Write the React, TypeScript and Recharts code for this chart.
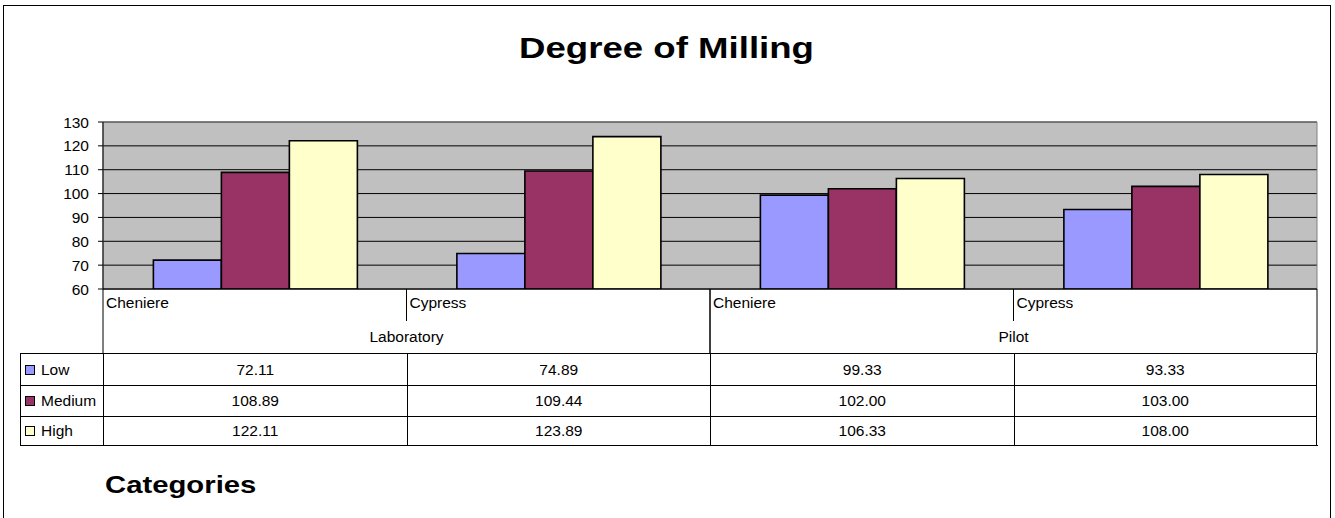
import React from 'react';
import {
  BarChart,
  Bar,
  XAxis,
  YAxis,
  CartesianGrid,
  ReferenceArea,
} from 'recharts';

// chart values
const categories = ['Cheniere', 'Cypress', 'Cheniere', 'Cypress'];
const groups = ['Laboratory', 'Laboratory', 'Pilot', 'Pilot'];
const lowValues = [72.11, 74.89, 99.33, 93.33];
const mediumValues = [108.89, 109.44, 102.0, 103.0];
const highValues = [122.11, 123.89, 106.33, 108.0];
const yTicks = [60, 70, 80, 90, 100, 110, 120, 130];
const seriesNames = ['Low', 'Medium', 'High'];
const seriesKeys = ['low', 'medium', 'high'];
const seriesColors = ['#9999FF', '#993366', '#FFFFCC'];
const seriesValues = [lowValues, mediumValues, highValues];

const data = categories.map((c, i) => ({
  idx: i,
  low: lowValues[i],
  medium: mediumValues[i],
  high: highValues[i],
}));

// layout
const W = 1335;
const H = 518;
const PLOT_LEFT = 103;
const PLOT_RIGHT = 1317;
const PLOT_TOP = 122;
const PLOT_BOTTOM = 289;
const AXIS_H = 64;
const BAND = (PLOT_RIGHT - PLOT_LEFT) / categories.length;
const TABLE_LEFT = 20;
const ROW_TOPS = [353, 385, 416];
const ROW_HEIGHTS = [32, 31, 29];
const FONT = '"Liberation Sans", Arial, sans-serif';
const FS = 15.5;

function CategoryTick(props: any) {
  const { x, index } = props;
  const i = index as number;
  const left = x - BAND / 2;
  const right = x + BAND / 2;
  const groupEnd = i === categories.length - 1 || groups[i + 1] !== groups[i];
  const groupStart = i === 0 || groups[i - 1] !== groups[i];
  let groupLabel = null;
  if (groupEnd) {
    let start = i;
    while (start > 0 && groups[start - 1] === groups[i]) start--;
    const gx = PLOT_LEFT + ((start + i + 1) / 2) * BAND;
    groupLabel = (
      <text x={gx} y={342} textAnchor="middle" fontSize={FS} fill="#000" fontFamily={FONT}>
        {groups[i]}
      </text>
    );
  }
  return (
    <g>
      {groupStart && (
        <line x1={left} x2={left} y1={PLOT_BOTTOM} y2={PLOT_BOTTOM + AXIS_H} stroke="#000" />
      )}
      <line
        x1={right}
        x2={right}
        y1={PLOT_BOTTOM}
        y2={groupEnd ? PLOT_BOTTOM + AXIS_H : PLOT_BOTTOM + 32}
        stroke="#000"
      />
      <text x={left + 3} y={308} fontSize={FS} fill="#000" fontFamily={FONT}>
        {categories[i]}
      </text>
      {groupLabel}
    </g>
  );
}

function DataTable() {
  const cells: React.ReactNode[] = [];
  seriesNames.forEach((name, r) => {
    const top = ROW_TOPS[r];
    const h = ROW_HEIGHTS[r];
    cells.push(
      <div
        key={`lg-${r}`}
        style={{
          position: 'absolute',
          left: TABLE_LEFT,
          top,
          width: PLOT_LEFT - TABLE_LEFT,
          height: h,
          boxSizing: 'border-box',
          borderLeft: '1px solid #000',
          borderTop: '1px solid #000',
          display: 'flex',
          alignItems: 'center',
        }}
      >
        <span
          style={{
            display: 'inline-block',
            width: 8,
            height: 8,
            marginLeft: 4,
            marginRight: 6,
            border: '1px solid #000',
            background: seriesColors[r],
          }}
        />
        <span>{name}</span>
      </div>
    );
    seriesValues[r].forEach((v, c) => {
      cells.push(
        <div
          key={`c-${r}-${c}`}
          style={{
            position: 'absolute',
            left: PLOT_LEFT + c * BAND,
            top,
            width: BAND,
            height: h,
            boxSizing: 'border-box',
            borderLeft: '1px solid #000',
            borderTop: '1px solid #000',
            borderRight: c === categories.length - 1 ? '1px solid #000' : undefined,
            display: 'flex',
            alignItems: 'center',
            justifyContent: 'center',
          }}
        >
          {v.toFixed(2)}
        </div>
      );
    });
  });
  const bottom = ROW_TOPS[2] + ROW_HEIGHTS[2];
  cells.push(
    <div
      key="bottom"
      style={{
        position: 'absolute',
        left: TABLE_LEFT,
        top: bottom,
        width: PLOT_RIGHT - TABLE_LEFT + 1,
        height: 0,
        borderTop: '1px solid #000',
      }}
    />
  );
  return <>{cells}</>;
}

export default function App() {
  return (
    <div
      style={{
        position: 'absolute',
        left: 0,
        top: 0,
        width: W,
        height: H,
        overflow: 'hidden',
        background: '#fff',
        fontFamily: FONT,
        fontSize: FS,
        color: '#000',
      }}
    >
      <div
        style={{
          position: 'absolute',
          left: 3,
          top: 5,
          width: 1326,
          height: 560,
          border: '1.5px solid #000',
        }}
      />
      <div
        style={{
          position: 'absolute',
          left: 0,
          width: 1333,
          top: 31,
          textAlign: 'center',
          fontSize: 30,
          fontWeight: 'bold',
          lineHeight: '34px',
          transform: 'scaleX(1.22)',
        }}
      >
        Degree of Milling
      </div>
      <div style={{ position: 'absolute', left: 0, top: 0 }}>
        <BarChart
          width={W}
          height={360}
          data={data}
          margin={{ top: PLOT_TOP, right: W - PLOT_RIGHT, left: 43, bottom: 7 }}
          barCategoryGap="16.6%"
          barGap={0}
        >
          <CartesianGrid vertical={false} stroke="#000" fill="#C0C0C0" fillOpacity={1} />
          <ReferenceArea y1={60} y2={130} fill="none" stroke="#808080" strokeWidth={1} />
          <XAxis
            dataKey="idx"
            type="category"
            interval={0}
            height={AXIS_H}
            tickLine={false}
            axisLine={{ stroke: '#000' }}
            tick={(p: any) => <CategoryTick {...p} />}
          />
          <YAxis
            width={60}
            domain={[60, 130]}
            ticks={yTicks}
            allowDataOverflow
            tickSize={5}
            tickMargin={9}
            axisLine={{ stroke: '#000' }}
            tickLine={{ stroke: '#000' }}
            tick={{ fill: '#000', fontSize: FS, fontFamily: FONT }}
          />
          {seriesKeys.map((k, i) => (
            <Bar
              key={k}
              dataKey={k}
              name={seriesNames[i]}
              fill={seriesColors[i]}
              stroke="#000"
              strokeWidth={1.6}
              isAnimationActive={false}
            />
          ))}
        </BarChart>
      </div>
      <DataTable />
      <div
        style={{
          position: 'absolute',
          left: 105,
          top: 470,
          fontSize: 24,
          fontWeight: 'bold',
          lineHeight: '30px',
          transform: 'scaleX(1.22)',
          transformOrigin: 'left center',
        }}
      >
        Categories
      </div>
    </div>
  );
}
